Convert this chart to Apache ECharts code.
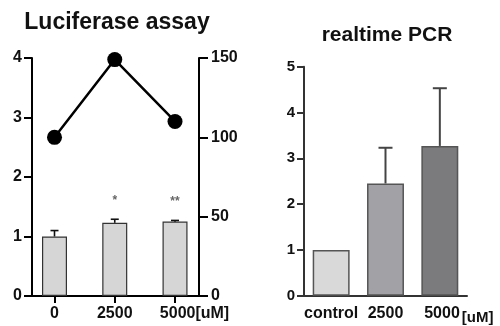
<!DOCTYPE html>
<html>
<head>
<meta charset="utf-8">
<script src="https://cdn.jsdelivr.net/npm/echarts@6/dist/echarts.min.js"></script>
<style>
html,body{margin:0;padding:0;background:#fff;}
#c{width:500px;height:326px;}
</style>
</head>
<body>
<div id="c"></div>
<script>
// ---- Luciferase assay (left panel) ----
const lucCategories = ['0', '2500', '5000'];
const lucBarValues = [1.0, 1.23, 1.25];
const lucBarErrTop = [1.1, 1.29, 1.27];
const lucSig = ['', '*', '**'];
const lucLineValues = [100, 149, 110];
const lucLeftTicks = [0, 1, 2, 3, 4];
const lucRightTicks = [0, 50, 100, 150];
const unitLabel = '[uM]';

// ---- realtime PCR (right panel) ----
const pcrCategories = ['control', '2500', '5000'];
const pcrValues = [1.0, 2.45, 3.27];
const pcrErrTop = [1.0, 3.23, 4.53];
const pcrColors = ['#d9d9d9', '#a2a2a6', '#7b7b7d'];
const pcrTicks = [0, 1, 2, 3, 4, 5];

const FONT = '"Liberation Sans", Arial, sans-serif';

const chart = echarts.init(document.getElementById('c'), null, {renderer: 'canvas'});

function errRenderer(capHalf, color, width, sig) {
  return function (params, api) {
    const x = api.value(0), y = api.value(1), e = api.value(2);
    const base = api.coord([x, y]);
    const top = api.coord([x, e]);
    const children = [];
    if (e > y) {
      children.push({type: 'line', shape: {x1: base[0], y1: base[1], x2: top[0], y2: top[1]},
        style: {stroke: color, lineWidth: width}});
      children.push({type: 'line', shape: {x1: top[0] - capHalf, y1: top[1], x2: top[0] + capHalf, y2: top[1]},
        style: {stroke: color, lineWidth: width}});
    }
    if (sig && sig[params.dataIndex]) {
      children.push({type: 'text', x: top[0], y: top[1] - 19,
        style: {text: sig[params.dataIndex], fill: '#666', font: 'bold 12px ' + FONT, align: 'center', verticalAlign: 'middle'}});
    }
    return {type: 'group', children: children};
  };
}

const lucIdx = lucCategories.map((c, i) => i);
const pcrCatFormatter = function (v) {
  return v === pcrCategories[pcrCategories.length - 1] ? '{pad|}{a|' + v + '}{u|' + unitLabel + '}' : '{b|' + v + '}';
};

const option = {
  animation: false,
  backgroundColor: '#fff',
  title: [
    {text: 'Luciferase assay', left: 112, top: 6, textAlign: 'center',
      textStyle: {fontFamily: FONT, fontWeight: 'bold', fontSize: 23, color: '#111'}},
    {text: 'realtime PCR', left: 382, top: 20, textAlign: 'center',
      textStyle: {fontFamily: FONT, fontWeight: 'bold', fontSize: 21, color: '#111'}}
  ],
  grid: [
    {left: 32, right: 301, top: 58, bottom: 30},
    {left: 304, right: 33, top: 66.7, bottom: 30.3}
  ],
  xAxis: [
    {type: 'value', gridIndex: 0, min: -0.3734, max: 2.398,
      splitLine: {show: false},
      axisLine: {show: true, onZero: false, lineStyle: {color: '#000', width: 2}},
      axisTick: {show: true, length: 7, customValues: lucIdx, lineStyle: {color: '#000', width: 2}},
      axisLabel: {customValues: lucIdx, margin: 10, color: '#111',
        fontFamily: FONT, fontWeight: 'bold', fontSize: 16,
        formatter: function (v) {
          const i = Math.round(v);
          return i === lucCategories.length - 1 ? '{pad|}{a|' + lucCategories[i] + '}{u|' + unitLabel + '}' : '{a|' + lucCategories[i] + '}';
        },
        rich: {
          a: {fontFamily: FONT, fontWeight: 'bold', fontSize: 16, color: '#111'},
          u: {fontFamily: FONT, fontWeight: 'bold', fontSize: 16, color: '#111'},
          pad: {width: 39}
        }}
    },
    {type: 'category', gridIndex: 1, data: pcrCategories,
      axisLine: {onZero: false, lineStyle: {color: '#333', width: 2}},
      axisTick: {alignWithLabel: true, length: 6, lineStyle: {color: '#333', width: 2}},
      axisLabel: {interval: 0, hideOverlap: false, margin: 10, color: '#111', fontFamily: FONT, fontWeight: 'bold', fontSize: 16,
        formatter: pcrCatFormatter,
        rich: {
          b: {fontFamily: FONT, fontWeight: 'bold', fontSize: 16, color: '#111'},
          a: {fontFamily: FONT, fontWeight: 'bold', fontSize: 16, color: '#111', padding: [0, 0, 4, 0]},
          u: {fontFamily: FONT, fontWeight: 'bold', fontSize: 15, color: '#111', padding: [4, 0, 0, 2]},
          pad: {width: 38, padding: [0, 0, 4, 0]}
        }}
    }
  ],
  yAxis: [
    {type: 'value', gridIndex: 0, min: 0, max: 4, interval: 1,
      splitLine: {show: false},
      axisLine: {show: true, onZero: false, lineStyle: {color: '#000', width: 2}},
      axisTick: {show: true, length: 8, lineStyle: {color: '#000', width: 2}},
      axisLabel: {margin: 10, color: '#111', fontFamily: FONT, fontWeight: 'bold', fontSize: 16}
    },
    {type: 'value', gridIndex: 0, position: 'right', min: 0, max: 150, interval: 50,
      splitLine: {show: false},
      axisLine: {show: true, onZero: false, lineStyle: {color: '#000', width: 2}},
      axisTick: {show: true, length: 9, lineStyle: {color: '#000', width: 2}},
      axisLabel: {margin: 12, color: '#111', fontFamily: FONT, fontWeight: 'bold', fontSize: 16}
    },
    {type: 'value', gridIndex: 1, min: 0, max: 5, interval: 1,
      splitLine: {show: false},
      axisLine: {show: true, onZero: false, lineStyle: {color: '#333', width: 2}},
      axisTick: {show: true, length: 7, lineStyle: {color: '#333', width: 2}},
      axisLabel: {margin: 9, color: '#111', fontFamily: FONT, fontWeight: 'bold', fontSize: 15}
    }
  ],
  series: [
    {type: 'bar', xAxisIndex: 0, yAxisIndex: 0, barWidth: 25,
      data: lucBarValues.map((v, i) => [i, v]),
      itemStyle: {color: '#d6d6d6', borderColor: '#333', borderWidth: 1.2}, z: 2},
    {type: 'custom', xAxisIndex: 0, yAxisIndex: 0, z: 3,
      renderItem: errRenderer(4, '#111', 1.6, lucSig),
      data: lucBarValues.map((v, i) => [i, v, lucBarErrTop[i]])},
    {type: 'line', xAxisIndex: 0, yAxisIndex: 1, z: 4,
      data: lucLineValues.map((v, i) => [i, v]),
      symbol: 'circle', symbolSize: 15,
      lineStyle: {color: '#000', width: 2.5},
      itemStyle: {color: '#000'}},
    {type: 'bar', xAxisIndex: 1, yAxisIndex: 2, barCategoryGap: '32%',
      data: pcrValues.map((v, i) => ({value: v, itemStyle: {color: pcrColors[i]}})),
      itemStyle: {borderColor: '#555', borderWidth: 1.5}, z: 2},
    {type: 'custom', xAxisIndex: 1, yAxisIndex: 2, z: 3,
      renderItem: errRenderer(7, '#444', 2, null),
      data: pcrValues.map((v, i) => [i, v, pcrErrTop[i]])}
  ]
};
chart.setOption(option);
</script>
</body>
</html>
